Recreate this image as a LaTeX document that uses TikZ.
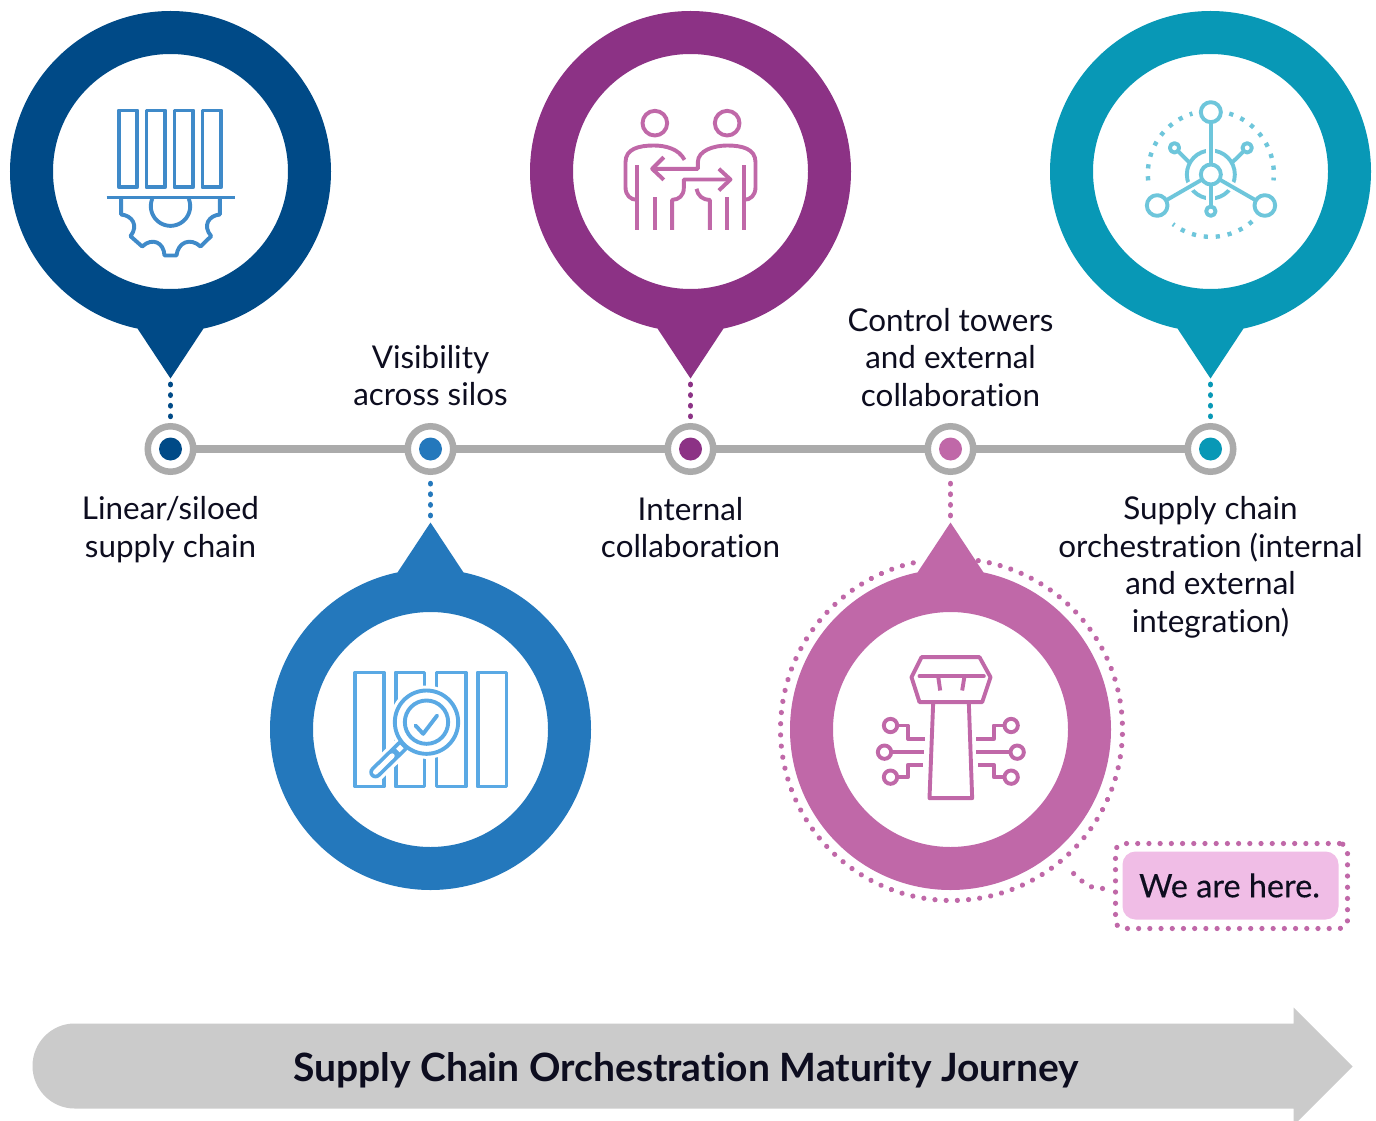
\documentclass[tikz,border=0pt]{standalone}
\usepackage{fontspec}
\setmainfont[Ligatures=NoCommon]{Lato}
\newfontfamily\semifont[FakeBold=0.25,Ligatures=NoCommon]{Lato}
\definecolor{cnavy}{HTML}{004A87}
\definecolor{cblue}{HTML}{2478BC}
\definecolor{cpurple}{HTML}{8C3285}
\definecolor{cpink}{HTML}{C068A8}
\definecolor{cteal}{HTML}{0898B6}
\definecolor{cgrey}{HTML}{ABABAB}
\definecolor{cband}{HTML}{CBCBCB}
\definecolor{clight}{HTML}{F0BDE6}
\definecolor{cink}{HTML}{0D0D1F}
\definecolor{icona}{HTML}{3F8AC9}
\definecolor{iconb}{HTML}{5AA9E4}
\definecolor{icond}{HTML}{6EC6DB}
\tikzset{
  every node/.style={inner sep=0pt,outer sep=0pt},
  pinring/.style={circle,draw=#1,line width=43pt,fill=white,minimum size=278pt},
  ringnode/.style={circle,draw=cgrey,line width=6.5pt,fill=white,minimum size=45.5pt},
  dotnode/.style={circle,fill=#1,minimum size=23pt},
  dotline/.style={draw=#1,line width=5.8pt,line cap=round,dash pattern=on 0.01pt off 10.6pt},
  pinkdots/.style={draw=cpink,line width=5.2pt,line cap=round,dash pattern=on 0.01pt off 11.2pt},
  label/.style={font=\fontsize{31.4}{37.5}\selectfont,text=cink,align=center},
  ico/.style={draw=#1,line width=3.9pt,line join=round},
  timeline/.style={draw=cgrey,line width=8pt},
}
\newcommand{\mileStop}[3]{%
  \node[ringnode] (#1) at (#2,448.5) {};
  \node[dotnode=#3] (#1dot) at (#2,448.5) {};
}
\newcommand{\pinUp}[3]{%
  \fill[#3] (#2-33,328) -- (#2,378) -- (#2+33,328) -- cycle;
  \node[pinring=#3] (#1) at (#2,171) {};
}
\newcommand{\pinDown}[3]{%
  \fill[#3] (#2-33,572) -- (#2,522) -- (#2+33,572) -- cycle;
  \node[pinring=#3] (#1) at (#2,729) {};
}
\begin{document}
\begin{tikzpicture}[x=1pt,y=-1pt]
\useasboundingbox (-0.5,-0.5) rectangle (1375.5,1120.5);
\fill[white] (-0.5,-0.5) rectangle (1375.5,1120.5);

% timeline stops
\mileStop{sa}{170}{cnavy}
\mileStop{sb}{430}{cblue}
\mileStop{sc}{690}{cpurple}
\mileStop{sd}{950}{cpink}
\mileStop{se}{1210}{cteal}
\draw[timeline] (sa) -- (sb);
\draw[timeline] (sb) -- (sc);
\draw[timeline] (sc) -- (sd);
\draw[timeline] (sd) -- (se);

% dotted circle around the current stage
\draw[pinkdots] plot[domain=-81:259,samples=240] ({951+171*cos(\x)},{729+171*sin(\x)});

% pins
\pinUp{pa}{170}{cnavy}
\pinDown{pb}{430}{cblue}
\pinUp{pc}{690}{cpurple}
\pinDown{pd}{950}{cpink}
\pinUp{pe}{1210}{cteal}

% dotted stems
\coordinate (ta) at (170,384); \coordinate (tc) at (690,384); \coordinate (te) at (1210,384);
\coordinate (tb) at (430,515); \coordinate (td) at (950,515);
\draw[dotline=cnavy] (ta) -- ++(0,33);
\draw[dotline=cpurple] (tc) -- ++(0,33);
\draw[dotline=cteal] (te) -- ++(0,33);
\draw[dotline=cblue] (tb) -- ++(0,-33);
\draw[dotline=cpink] (td) -- ++(0,-33);

% labels
\node[label] (la) at (170,529) {Linear/siloed\\supply chain};
\node[label] (lb) at (430,375.3) {Visibility\\across silos};
\node[label] (lc) at (690,527.2) {Internal\\collaboration};
\node[label] (ld) at (950,356.7) {Control towers\\and external\\collaboration};
\node[label] (le) at (1210,567) {Supply chain\\orchestration (internal\\and external\\integration)};

% icon 1
\begin{scope}[shift={(90,90)},scale=1/3]
  \foreach \xa/\xb in {85/140,168/224,252/308,336/392}
    \draw[ico=icona] (\xa,60) rectangle (\xb,290);
  \draw[ico=icona] (48,321) -- (432,321);
  \draw[ico=icona] (92,325) -- (92,372) .. controls (125,375) and (145,405) .. (120,437)
    -- (155,468) .. controls (185,440) and (220,455) .. (222,495)
    -- (258,495) .. controls (262,455) and (300,440) .. (330,468)
    -- (362,437) .. controls (335,405) and (355,375) .. (388,372) -- (388,325);
  \draw[ico=icona] plot[domain=202:-22,samples=50] ({240+59*cos(\x)},{347+59*sin(\x)});
\end{scope}

% icon 2
\begin{scope}[shift={(340,660)},scale=1/3]
  \foreach \xa/\xb in {44/130,166/252,288/376,412/498}
    \draw[ico=iconb] (\xa,36) rectangle (\xb,378);
  \draw[white,line width=19pt,line cap=round] (105,335) -- (180,262);
  \fill[white] (258,185) circle[radius=110];
  \draw[iconb,line width=12.5pt,line cap=round] (105,335) -- (185,257);
  \draw[white,line width=5pt,line cap=round] (105,335) -- (155,286);
  \draw[white,line width=5pt] (172,270) -- (184,258);
  \draw[ico=iconb,fill=white] (258,185) circle[radius=95];
  \draw[ico=iconb] (258,185) circle[radius=65];
  \draw[ico=iconb,line cap=round] (225,195) -- (248,220) -- (290,165);
\end{scope}

% icon 3
\begin{scope}[shift={(610,100)},scale=1/3]
  \draw[ico=cpink] (133,68) circle[radius=37];
  \draw[ico=cpink] (350,68) circle[radius=37];
  \draw[ico=cpink] (222,178) .. controls (205,145) and (165,135) .. (130,135)
    .. controls (85,135) and (45,145) .. (45,185) -- (45,260)
    .. controls (45,285) and (60,298) .. (80,298);
  \draw[ico=cpink] (80,195) -- (80,388);
  \draw[ico=cpink] (133,290) -- (133,388);
  \draw[ico=cpink] (185,388) -- (185,298) .. controls (205,298) and (220,285) .. (220,262) -- (220,237) -- (360,237);
  \draw[ico=cpink] (325,205) -- (360,237) -- (325,270);
  \draw[ico=cpink] (160,170) -- (125,205) -- (160,238);
  \draw[ico=cpink] (125,205) -- (262,205) -- (262,185) .. controls (262,150) and (310,135) .. (350,135)
    .. controls (395,135) and (435,145) .. (435,185) -- (435,260)
    .. controls (435,285) and (420,298) .. (400,298);
  \draw[ico=cpink] (400,195) -- (400,388);
  \draw[ico=cpink] (350,290) -- (350,388);
  \draw[ico=cpink] (298,388) -- (298,298) .. controls (275,298) and (262,285) .. (258,265);
\end{scope}

% icon 4
\begin{scope}[shift={(1130,90)},scale=1/3]
  \draw[icond,line width=4.4pt,dash pattern=on 4.2pt off 7.8pt] plot[domain=-73:6,samples=60] ({241+189*cos(\x)},{250+189*sin(\x)});
  \draw[icond,line width=4.4pt,dash pattern=on 4.2pt off 7.8pt] plot[domain=49:127,samples=60] ({241+189*cos(\x)},{250+189*sin(\x)});
  \draw[icond,line width=4.4pt,dash pattern=on 4.2pt off 7.8pt] plot[domain=174:253,samples=60] ({241+189*cos(\x)},{250+189*sin(\x)});
  \draw[ico=icond] (241,252) circle[radius=72];
  \foreach \xa/\ya in {241/65,80/345,403/345,241/362}
    \draw[white,line width=9pt] (241,252) -- (\xa,\ya);
  \foreach \xa/\ya in {241/65,80/345,403/345,241/362}
    \draw[ico=icond] (241,252) -- (\xa,\ya);
  \draw[ico=icond] (132,172) -- (178,217);
  \draw[ico=icond] (350,172) -- (304,217);
  \draw[ico=icond,fill=white] (241,252) circle[radius=30];
  \draw[ico=icond,fill=white] (241,65) circle[radius=30];
  \draw[ico=icond,fill=white] (80,345) circle[radius=31];
  \draw[ico=icond,fill=white] (403,345) circle[radius=31];
  \draw[ico=icond,fill=white] (241,362) circle[radius=14];
  \draw[ico=icond,fill=white] (132,172) circle[radius=14];
  \draw[ico=icond,fill=white] (350,172) circle[radius=14];
\end{scope}

% icon 5
\begin{scope}[shift={(865,645)},scale=1/3]
  \draw[ico=cpink] (168,35) -- (342,35) -- (375,95) -- (350,170) -- (162,170) -- (138,95) -- cycle;
  \draw[ico=cpink,line cap=round] (162,92) -- (355,92);
  \draw[ico=cpink] (218,92) -- (224,135);
  \draw[ico=cpink] (297,92) -- (290,135);
  \draw[ico=cpink] (203,172) -- (192,458) -- (320,458) -- (310,172);
  \draw[ico=cpink] (75,240) circle[radius=20];
  \draw[ico=cpink] (57,320) circle[radius=20];
  \draw[ico=cpink] (75,395) circle[radius=20];
  \draw[ico=cpink] (437,240) circle[radius=20];
  \draw[ico=cpink] (455,320) circle[radius=20];
  \draw[ico=cpink] (437,395) circle[radius=20];
  \draw[ico=cpink] (95,240) -- (127,240) -- (127,280) -- (178,280);
  \draw[ico=cpink] (77,320) -- (175,320);
  \draw[ico=cpink] (95,395) -- (127,395) -- (127,358) -- (173,358);
  \draw[ico=cpink] (417,240) -- (385,240) -- (385,280) -- (332,280);
  \draw[ico=cpink] (435,320) -- (332,320);
  \draw[ico=cpink] (417,395) -- (385,395) -- (385,358) -- (337,358);
\end{scope}

% callout
\node[pinkdots,rounded corners=8pt,fill=white,minimum width=232pt,minimum height=85pt] (callout) at (1231,885.5) {};
\node[fill=clight,rounded corners=13pt,minimum width=216pt,minimum height=68pt,text=cink,font=\semifont\fontsize{32.4}{37}\selectfont] (here) at (1230,885) {\raisebox{-5pt}{\kern-2pt We are here.}};
\draw[pinkdots,shorten <=13pt] (callout.west |- 0,888) .. controls (1090,888) and (1085,885) .. (1068,868);

% maturity arrow
\fill[cband] (74,1023) -- (1293,1023) -- (1293,1007) -- (1352,1066) -- (1293,1125) -- (1293,1108) -- (74,1108)
  .. controls (51,1108) and (32,1089) .. (32,1065.5) .. controls (32,1042) and (51,1023) .. (74,1023) -- cycle;
\node[font=\bfseries\fontsize{39}{46}\selectfont,text=cink] (journey) at (685.5,1070) {Supply Chain Orchestration Maturity Journey};
\end{tikzpicture}
\end{document}
